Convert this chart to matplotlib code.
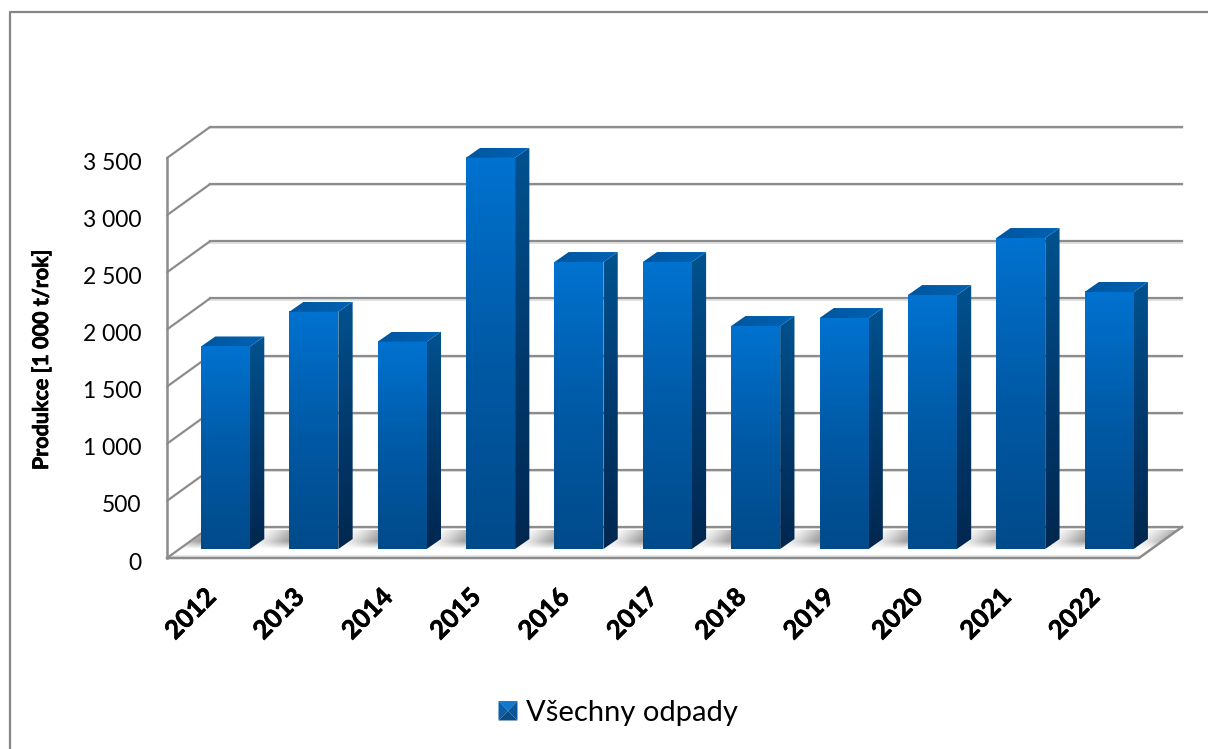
import numpy as np
import matplotlib
matplotlib.use("Agg")
import matplotlib.pyplot as plt
import matplotlib.patheffects as pe
from matplotlib.colors import LinearSegmentedColormap
from matplotlib.legend_handler import HandlerBase
from matplotlib.lines import Line2D
from matplotlib.patches import Patch, Polygon
from matplotlib.transforms import ScaledTranslation

plt.rcParams['font.family'] = ['Lato', 'DejaVu Sans']

years = [2012, 2013, 2014, 2015, 2016, 2017, 2018, 2019, 2020, 2021, 2022]
production = [1772, 2076, 1814, 3424, 2511, 2511, 1951, 2021, 2222, 2721, 2249]
y_ticks = [0, 500, 1000, 1500, 2000, 2500, 3000, 3500]

W, H = 1208, 749
fig = plt.figure(figsize=(W / 100, H / 100), dpi=100, facecolor='white')
ax = fig.add_axes([167 / W, (H - 558) / H, 972 / W, 400 / H])
ax.patch.set_alpha(0)
for s in ax.spines.values():
    s.set_visible(False)

# one pixel in data units
px_x = len(years) / 972
px_y = 3500 / 400
xmin, xmax = -0.5, len(years) - 0.5
back_x, back_y = 43 * px_x, 31 * px_y
grid_col = '#8c8c8c'
thick = [pe.withStroke(linewidth=0.5, foreground='black')]

# floor
floor = Polygon([(xmin, 0), (xmax, 0), (xmax + back_x, back_y), (xmin + back_x, back_y)],
                closed=True, fc='white', ec='none', zorder=1, clip_on=False)
ax.add_patch(floor)
xs = np.linspace(xmin, xmax + back_x, 1100)
ys = np.linspace(0, 1, 30)
gx, gy = np.meshgrid(xs, ys)
phase = (gx + 0.5 - 0.30 - 0.22 * gy) % 1
shade = 0.62 + 0.36 * np.abs(np.sin(np.pi * phase)) ** 1.3
fade = np.clip(gy * 2.4, 0, 1)
shade = 1 - (1 - shade) * fade
floor_im = ax.imshow(shade, extent=[xmin, xmax + back_x, 9 * px_y, 28 * px_y], origin='lower',
                     cmap='gray', vmin=0, vmax=1, aspect='auto', zorder=1.1)
floor_im.set_clip_box(fig.bbox)
floor_im.set_clip_path(Polygon(floor.get_xy(), transform=ax.transData))

# walls and gridlines
for v in y_ticks:
    ax.plot([xmin, xmin + back_x], [v, v + back_y], color=grid_col, lw=1.6, zorder=2, clip_on=False,
            solid_capstyle='round')
    ax.plot([xmin + back_x, xmax + back_x], [v + back_y - 1.3 * px_y] * 2, color='#dddddd', lw=1.2,
            zorder=1.9, clip_on=False)
    ax.plot([xmin + back_x, xmax + back_x], [v + back_y] * 2, color=grid_col, lw=1.6, zorder=2,
            clip_on=False)
ax.plot([xmin, xmin], [0, 3500], color=grid_col, lw=1.8, zorder=2, clip_on=False)
ax.plot([xmin, xmax, xmax + back_x], [0, 0, back_y], color=grid_col, lw=1.8, zorder=2, clip_on=False,
        solid_joinstyle='round')
ax.plot([xmin, xmax], [1.6 * px_y, 1.6 * px_y], color='#e4e4e4', lw=1.2, zorder=1.8, clip_on=False)

# bars
front_cm = LinearSegmentedColormap.from_list('front', ['#004a8a', '#005aa6', '#0072d0'])
side_cm = LinearSegmentedColormap.from_list('side', ['#00274f', '#003a6e', '#00528f'])
top_cm = LinearSegmentedColormap.from_list('top', ['#00569f', '#0062b4'])
bar_w = 49 * px_x
depth_x, depth_y = 14.3 * px_x, 10 * px_y
base = 9 * px_y
grad_v = np.linspace(0, 1, 128).reshape(-1, 1)
grad_h = np.linspace(0, 1, 32).reshape(1, -1)

bars = ax.bar(np.arange(len(years)) + depth_x, production, width=bar_w, bottom=base,
              color='none', edgecolor='none', zorder=3)
for i, b in enumerate(bars):
    x0, y0 = b.get_x(), b.get_y()
    x1, y1 = x0 + b.get_width(), y0 + b.get_height()
    z = 3 + i * 0.01
    ax.imshow(grad_v, extent=[x0, x1, y0, y1], origin='lower', cmap=front_cm, aspect='auto', zorder=z,
              clip_on=False)
    side = Polygon([(x1, y0), (x1 + depth_x, y0 + depth_y), (x1 + depth_x, y1 + depth_y), (x1, y1)],
                   closed=True, fc='none', ec='none', transform=ax.transData)
    im = ax.imshow(grad_v, extent=[x1, x1 + depth_x, y0, y1 + depth_y], origin='lower', cmap=side_cm,
                   aspect='auto', zorder=z)
    im.set_clip_box(fig.bbox)
    im.set_clip_path(side)
    top = Polygon([(x0, y1), (x1, y1), (x1 + depth_x, y1 + depth_y), (x0 + depth_x, y1 + depth_y)],
                  closed=True, fc='none', ec='none', transform=ax.transData)
    im = ax.imshow(grad_h, extent=[x0, x1 + depth_x, y1, y1 + depth_y], origin='lower', cmap=top_cm,
                   aspect='auto', zorder=z)
    im.set_clip_box(fig.bbox)
    im.set_clip_path(top)

ax.set_xlim(xmin, xmax)
ax.set_ylim(0, 3500)

ax.set_yticks(y_ticks)
ax.set_yticklabels([f"{v:,}".replace(",", " ") for v in y_ticks], fontsize=16.5, color='black')
ax.set_xticks(np.arange(len(years)))
ax.set_xticklabels(years, fontsize=18.5, fontweight='bold', rotation=45, ha='right', va='top',
                   rotation_mode='anchor', path_effects=thick)
ax.tick_params(axis='y', length=0, pad=18.5)
ax.tick_params(axis='x', length=0, pad=19)
y_shift = ScaledTranslation(0, -3 / 100, fig.dpi_scale_trans)
for t in ax.get_yticklabels():
    t.set_transform(t.get_transform() + y_shift)
x_shift = ScaledTranslation(-8 / 100, 0, fig.dpi_scale_trans)
for t in ax.get_xticklabels():
    t.set_transform(t.get_transform() + x_shift)
ax.set_ylabel("Produkce [1 000 t/rok]", fontsize=15.5, fontweight='bold', path_effects=thick)
ax.yaxis.set_label_coords((52 - 167) / 972, (558 - 360) / 400)


class PyramidHandler(HandlerBase):
    def create_artists(self, legend, orig, xd, yd, width, height, fontsize, trans):
        x0, y0 = -xd, -yd
        cx, cy = x0 + width / 2, y0 + height / 2
        x1, y1 = x0 + width, y0 + height
        faces = [([(x0, y1), (x1, y1), (cx, cy)], '#1079cf'),
                 ([(x0, y0), (x0, y1), (cx, cy)], '#0a5ea6'),
                 ([(x1, y0), (x1, y1), (cx, cy)], '#0a5698'),
                 ([(x0, y0), (x1, y0), (cx, cy)], '#0a4c88')]
        return [Polygon(p, closed=True, fc=c, ec='none', transform=trans) for p, c in faces]


fig.legend([Patch()], ["Všechny odpady"], loc='center', bbox_to_anchor=(618 / W, (H - 713) / H),
           frameon=False, fontsize=21, handler_map={Patch: PyramidHandler()},
           handlelength=0.65, handleheight=0.65, handletextpad=0.28, borderpad=0)

# chart frame
fig.add_artist(Line2D([9.5 / W, 9.5 / W, 1], [0, (H - 12) / H, (H - 12) / H], color='#868686', lw=1.6))

fig.savefig('out.png', dpi=100)
